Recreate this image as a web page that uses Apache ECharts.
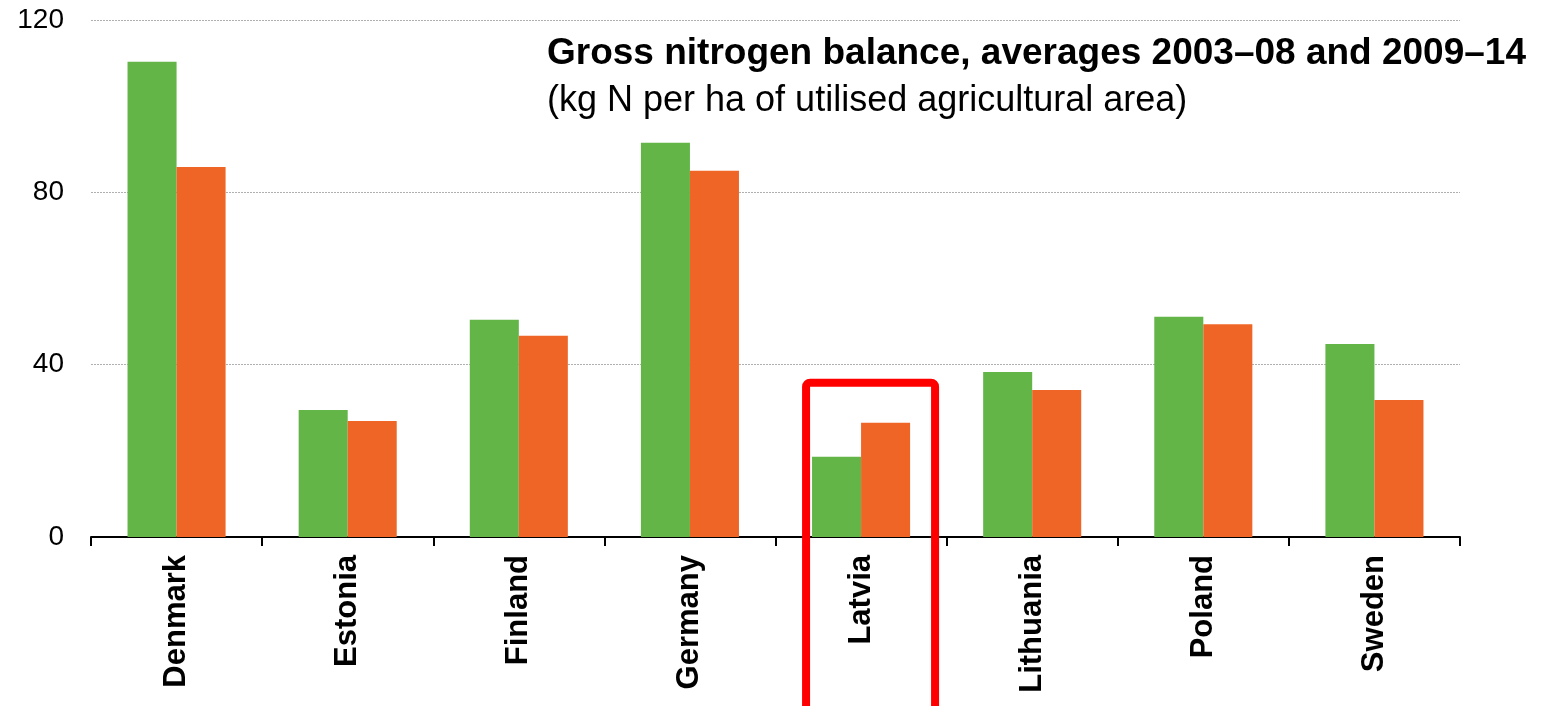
<!DOCTYPE html>
<html>
<head>
<meta charset="utf-8">
<script src="https://cdn.jsdelivr.net/npm/echarts@6/dist/echarts.min.js"></script>
<style>
  html, body { margin: 0; padding: 0; background: #ffffff; }
  #chart { width: 1546px; height: 706px; }
</style>
</head>
<body>
<div id="chart"></div>
<script>
// Gross nitrogen balance by country, kg N per ha of utilised agricultural area
const countries = ['Denmark', 'Estonia', 'Finland', 'Germany', 'Latvia', 'Lithuania', 'Poland', 'Sweden'];
const avg2003_08 = [110.3, 29.5, 50.4, 91.5, 18.6, 38.3, 51.1, 44.8];
const avg2009_14 = [85.9, 26.9, 46.7, 85.0, 26.5, 34.1, 49.4, 31.8];
const yTicks = [0, 40, 80, 120];

const highlightCountry = 'Latvia';
const highlightTop = 35.8;

const FONT = "'Liberation Sans', Arial, sans-serif";

const chart = echarts.init(document.getElementById('chart'), null, { renderer: 'canvas' });

const option = {
  animation: false,
  backgroundColor: '#ffffff',
  title: [
    {
      text: 'Gross nitrogen balance, averages 2003–08 and 2009–14',
      left: 547,
      top: 35,
      padding: 0,
      textStyle: { fontFamily: FONT, fontSize: 37, fontWeight: 'bold', color: '#000000' }
    },
    {
      text: '(kg N per ha of utilised agricultural area)',
      left: 547,
      top: 83,
      padding: 0,
      textStyle: { fontFamily: FONT, fontSize: 36, fontWeight: 'normal', color: '#000000' }
    }
  ],
  grid: { left: 91, right: 86, top: 20, bottom: 169, containLabel: false },
  xAxis: {
    type: 'category',
    data: countries,
    boundaryGap: true,
    axisLine: { show: true, lineStyle: { color: '#000000', width: 2 } },
    axisTick: { show: true, alignWithLabel: false, length: 9, lineStyle: { color: '#000000', width: 2 } },
    axisLabel: {
      rotate: 90,
      margin: 18,
      interval: 0,
      fontFamily: FONT,
      fontSize: 31,
      fontWeight: 'bold',
      color: '#000000'
    },
    splitLine: { show: false }
  },
  yAxis: {
    type: 'value',
    min: yTicks[0],
    max: yTicks[yTicks.length - 1],
    interval: yTicks[1] - yTicks[0],
    axisLine: { show: false },
    axisTick: { show: false },
    axisLabel: { margin: 27, fontFamily: FONT, fontSize: 28, color: '#000000' },
    splitLine: { show: true, lineStyle: { color: '#b0b0b0', width: 1, type: [2, 1] } }
  },
  series: [
    {
      name: '2003–08',
      type: 'bar',
      data: avg2003_08,
      barGap: '0%',
      barCategoryGap: '42.7%',
      itemStyle: { color: '#62b546' }
    },
    {
      name: '2009–14',
      type: 'bar',
      data: avg2009_14,
      barGap: '0%',
      barCategoryGap: '42.7%',
      itemStyle: { color: '#ef6526' }
    }
  ]
};

chart.setOption(option);

// Red frame around the highlighted country, placed from the axis scales
function drawHighlight() {
  const cx = chart.convertToPixel({ xAxisIndex: 0 }, highlightCountry);
  const topY = chart.convertToPixel({ yAxisIndex: 0 }, highlightTop);
  const left = cx - 55;
  const right = cx + 74;
  chart.setOption({
    graphic: [
      {
        type: 'rect',
        id: 'highlight',
        z: 100,
        shape: { x: left, y: topY, width: right - left, height: 760 - topY, r: 4 },
        style: { fill: 'none', stroke: '#ff0000', lineWidth: 8 }
      }
    ]
  });
}
drawHighlight();
</script>
</body>
</html>
